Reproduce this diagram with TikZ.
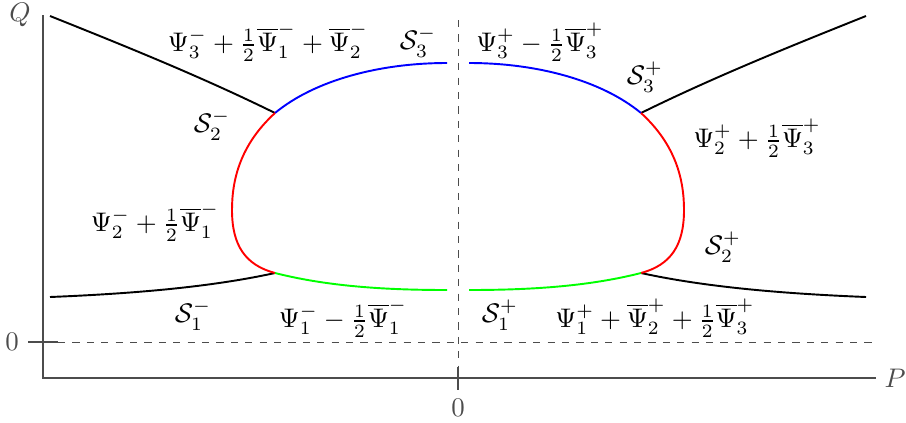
\documentclass[tikz,border=0pt]{standalone}
\usepackage{amsmath}
\usetikzlibrary{positioning}

\begin{document}
\begin{tikzpicture}[x=0.41667pt, y=-0.41667pt,
  axis/.style={thick, draw=black!70},
  guide/.style={dashed, draw=black!70},
  branch/.style={thick},
  lbl/.style={scale=1.12, inner sep=1pt},
  axlbl/.style={text=black!70, scale=1.12, inner sep=1pt}]
\useasboundingbox (0,0) rectangle (906,422);
% axes
\draw[axis] (43,15) -- (43,378) -- (876,378);
\draw[axis] (28,342) -- (58,342);
\draw[axis] (458,367) -- (458,390);
\draw[guide] (58,342) -- (876,342);
\draw[guide] (458,20) -- (458,367);
\node[axlbl] (qlab) at (20,15) {$Q$};
\node[axlbl] (plab) at (895,378) {$P$};
\node[axlbl] (qzero) at (12,342) {$0$};
\node[axlbl] (pzero) at (458,408) {$0$};
% junctions
\coordinate (ul) at (275,113); \coordinate (ur) at (641,113);
\coordinate (ll) at (275,273); \coordinate (lr) at (641,273);
% black branches
\draw[branch] (50,16) .. controls (120,44) and (200,76) .. (ul);
\draw[branch] (866,16) .. controls (796,44) and (716,76) .. (ur);
\draw[branch] (50,297) .. controls (150,293) and (220,285) .. (ll);
\draw[branch] (866,297) .. controls (766,293) and (696,285) .. (lr);
% blue
\draw[branch, blue] (ul) .. controls (315,80) and (380,63) .. (447,63);
\draw[branch, blue] (ur) .. controls (601,80) and (536,63) .. (469,63);
% red
\draw[branch, red] (ul) .. controls (240,145) and (232,180) .. (232,210) .. controls (232,245) and (245,265) .. (ll);
\draw[branch, red] (ur) .. controls (676,145) and (684,180) .. (684,210) .. controls (684,245) and (671,265) .. (lr);
% green
\draw[branch, green] (ll) .. controls (330,287) and (390,290) .. (447,290);
\draw[branch, green] (lr) .. controls (586,287) and (526,290) .. (469,290);
% labels
\node[lbl] (r3m) at (268,42) {$\Psi_3^- + \frac{1}{2}\overline{\Psi}_1^- + \overline{\Psi}_2^-$};
\node[lbl] (s3m) at (418,42) {$\mathcal{S}_3^-$};
\node[lbl] (r3p) at (540,42) {$\Psi_3^+ - \frac{1}{2}\overline{\Psi}_3^+$};
\node[lbl] (s3p) at (645,77) {$\mathcal{S}_3^+$};
\node[lbl] (s2m) at (212,125) {$\mathcal{S}_2^-$};
\node[lbl] (r2p) at (757,138) {$\Psi_2^+ + \frac{1}{2}\overline{\Psi}_3^+$};
\node[lbl] (r2m) at (155,222) {$\Psi_2^- + \frac{1}{2}\overline{\Psi}_1^-$};
\node[lbl] (s2p) at (723,247) {$\mathcal{S}_2^+$};
\node[lbl] (s1m) at (193,315) {$\mathcal{S}_1^-$};
\node[lbl] (r1m) at (343,318) {$\Psi_1^- - \frac{1}{2}\overline{\Psi}_1^-$};
\node[lbl] (s1p) at (500,315) {$\mathcal{S}_1^+$};
\node[lbl] (r1p) at (655,318) {$\Psi_1^+ + \overline{\Psi}_2^+ + \frac{1}{2}\overline{\Psi}_3^+$};
\end{tikzpicture}
\end{document}
